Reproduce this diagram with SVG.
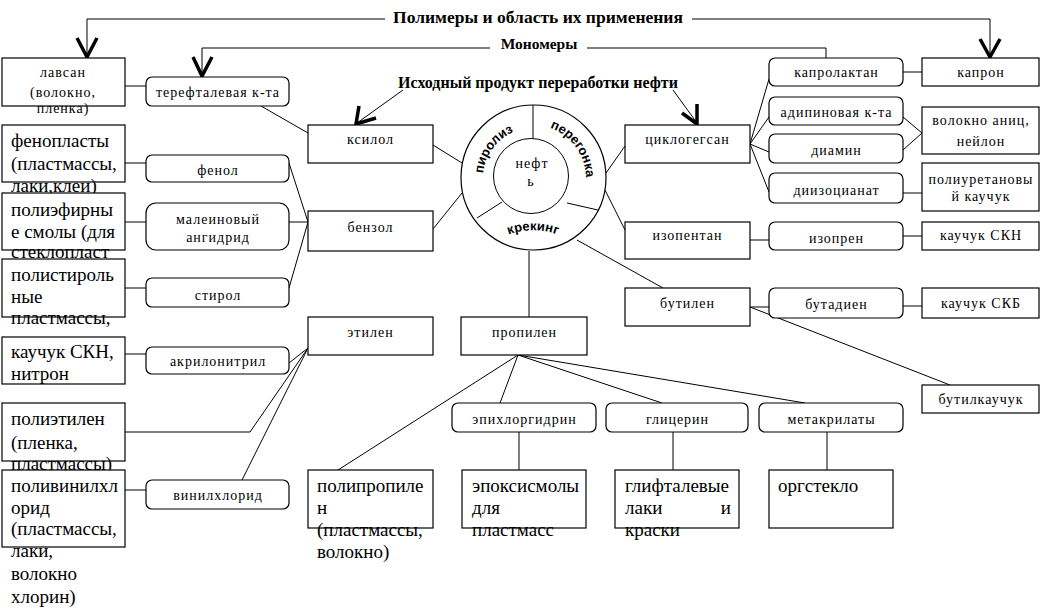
<svg xmlns="http://www.w3.org/2000/svg" width="1048" height="610" viewBox="0 0 1048 610" font-family="Liberation Serif, Times New Roman, serif">
<style>
.box{fill:#fff;stroke:#000;stroke-width:1.2}
.t{font-size:14px;fill:#000;letter-spacing:1px}
.c{text-anchor:middle}
.big{font-size:19px;fill:#000}
.h{font-weight:bold;fill:#000;text-anchor:middle}
.ln{stroke:#000;stroke-width:1;fill:none}
.arr{stroke:#000;stroke-width:3.5;fill:none;stroke-linejoin:miter}
.arc{font-weight:bold;font-size:13px;fill:#000}
</style>
<defs>
<path id="pPir" d="M 483.2 173.6 A 50 50 0 0 1 520.1 129.7"/>
<path id="pPer" d="M 550 128 A 53 53 0 0 1 584 192"/>
<path id="pKr" d="M 501 238 A 70 70 0 0 1 565 238"/>
</defs>

<rect width="1048" height="610" fill="#fff"/>

<g id="titles">
<text class="h" x="538" y="23" font-size="17.5">Полимеры и область их применения</text>
<text class="h" x="539" y="49" font-size="15.5">Мономеры</text>
<text class="h" x="538" y="88" font-size="16">Исходный продукт переработки нефти</text>
</g>

<g id="connectors">
<polyline class="ln" points="385,19 87,19 87,56"/>
<polyline class="ln" points="692,19 990,19 990,56"/>
<polyline class="arr" points="77,38 87,57 97,38"/>
<polyline class="arr" points="980,39 990,57 1000,39"/>
<polyline class="ln" points="490,48 202,48 202,76"/>
<polyline class="ln" points="587,48 826,48 826,58"/>
<polyline class="arr" points="193,57 202,76 212,57"/>
<line class="ln" x1="403" y1="90" x2="357" y2="123"/>
<polyline class="arr" points="359,106 356,124 376,118"/>
<line class="ln" x1="673" y1="90" x2="697" y2="123"/>
<polyline class="arr" points="697,104 697,124 682,113"/>

<line class="ln" x1="125" y1="86" x2="146" y2="86"/>
<line class="ln" x1="261" y1="106" x2="308" y2="133"/>
<line class="ln" x1="433" y1="145" x2="462" y2="163"/>
<line class="ln" x1="125" y1="163" x2="146" y2="163"/>
<line class="ln" x1="289" y1="163" x2="308" y2="222"/>
<line class="ln" x1="125" y1="222" x2="146" y2="222"/>
<line class="ln" x1="289" y1="222" x2="308" y2="222"/>
<line class="ln" x1="125" y1="288" x2="146" y2="288"/>
<line class="ln" x1="289" y1="288" x2="308" y2="222"/>
<line class="ln" x1="433" y1="229" x2="462" y2="193"/>
<line class="ln" x1="125" y1="354" x2="146" y2="354"/>
<line class="ln" x1="289" y1="363" x2="308" y2="348"/>
<polyline class="ln" points="125,432 250,432 308,348"/>
<line class="ln" x1="242" y1="480" x2="308" y2="348"/>
<line class="ln" x1="125" y1="490" x2="146" y2="490"/>

<line class="ln" x1="529" y1="251" x2="529" y2="317"/>
<line class="ln" x1="518" y1="355" x2="338" y2="470"/>
<line class="ln" x1="518" y1="355" x2="500" y2="403"/>
<line class="ln" x1="518" y1="355" x2="662" y2="403"/>
<line class="ln" x1="518" y1="355" x2="805" y2="403"/>
<line class="ln" x1="519" y1="432" x2="519" y2="470"/>
<line class="ln" x1="673" y1="432" x2="673" y2="470"/>
<line class="ln" x1="827" y1="432" x2="827" y2="470"/>

<line class="ln" x1="606" y1="173" x2="625" y2="146"/>
<line class="ln" x1="605" y1="190" x2="625" y2="230"/>
<line class="ln" x1="577" y1="240" x2="663" y2="288"/>
<line class="ln" x1="750" y1="144" x2="769" y2="79"/>
<line class="ln" x1="750" y1="144" x2="769" y2="117"/>
<line class="ln" x1="750" y1="144" x2="769" y2="152"/>
<line class="ln" x1="750" y1="144" x2="769" y2="192"/>
<line class="ln" x1="903" y1="72" x2="922" y2="72"/>
<line class="ln" x1="903" y1="117" x2="922" y2="133"/>
<line class="ln" x1="903" y1="150" x2="922" y2="133"/>
<line class="ln" x1="903" y1="193" x2="922" y2="193"/>
<line class="ln" x1="750" y1="240" x2="769" y2="240"/>
<line class="ln" x1="903" y1="236" x2="922" y2="236"/>
<line class="ln" x1="750" y1="307" x2="769" y2="307"/>
<line class="ln" x1="903" y1="306" x2="922" y2="306"/>
<line class="ln" x1="750" y1="307" x2="950" y2="385"/>
</g>

<g id="neft">
<circle cx="533.5" cy="177.5" r="72.5" class="box" fill="none"/>
<circle cx="531" cy="176" r="37.5" class="ln"/>
<line class="ln" x1="533" y1="105" x2="533" y2="138.5"/>
<line class="ln" x1="477" y1="218" x2="502" y2="202"/>
<line class="ln" x1="567" y1="203" x2="598" y2="210"/>
<g font-family="Liberation Sans, Arial, sans-serif">
<text class="arc"><textPath href="#pPir">пиролиз</textPath></text>
<text class="arc"><textPath href="#pPer">перегонка</textPath></text>
<text class="arc" text-anchor="middle"><textPath href="#pKr" startOffset="50%">крекинг</textPath></text>
</g>
<text class="t c" x="532" y="168">нефт</text>
<text class="t c" x="531" y="186" font-size="12">ь</text>
</g>

<g id="lavsan"><rect class="box" x="2" y="58" width="123" height="48"/>
<text class="t c" x="63" y="77">лавсан</text><text class="t c" x="63" y="97">(волокно,</text><text class="t c" x="63" y="113">пленка)</text></g>
<g id="fenoplasty"><rect class="box" x="2" y="125" width="123" height="57"/>
<text class="big" x="11" y="147">фенопласты</text><text class="big" x="11" y="170">(пластмассы,</text><text class="big" x="11" y="192">лаки,клеи)</text></g>
<g id="poliefir"><rect class="box" x="2" y="193" width="123" height="57"/>
<text class="big" x="11" y="216">полиэфирны</text><text class="big" x="11" y="238">е смолы (для</text><text class="big" x="11" y="258">стеклопласт</text></g>
<g id="polistirol"><rect class="box" x="2" y="259" width="123" height="58"/>
<text class="big" x="11" y="281">полистироль</text><text class="big" x="11" y="303">ные</text><text class="big" x="11" y="324">пластмассы,</text></g>
<g id="kauchuk-skn-nitron"><rect class="box" x="2" y="337" width="123" height="47"/>
<text class="big" x="11" y="358">каучук СКН,</text><text class="big" x="11" y="380">нитрон</text></g>
<g id="polietilen"><rect class="box" x="2" y="403" width="123" height="58"/>
<text class="big" x="11" y="425">полиэтилен</text><text class="big" x="11" y="449">(пленка,</text><text class="big" x="11" y="470">пластмассы)</text></g>
<g id="polivinilhlorid"><rect class="box" x="2" y="470" width="123" height="77"/>
<text class="big" x="11" y="492">поливинилхл</text><text class="big" x="11" y="514">орид</text><text class="big" x="11" y="535">(пластмассы,</text><text class="big" x="11" y="557">лаки,</text><text class="big" x="11" y="580">волокно</text><text class="big" x="11" y="603">хлорин)</text></g>

<g id="tereftal"><rect class="box" x="146" y="77" width="143" height="29" rx="6"/><text class="t c" x="218" y="97">терефталевая к-та</text></g>
<g id="fenol"><rect class="box" x="146" y="155" width="143" height="27" rx="6"/><text class="t c" x="218" y="175">фенол</text></g>
<g id="malein"><rect class="box" x="146" y="203" width="143" height="47" rx="10"/><text class="t c" x="218" y="224">малеиновый</text><text class="t c" x="218" y="242">ангидрид</text></g>
<g id="stirol"><rect class="box" x="146" y="278" width="143" height="29" rx="6"/><text class="t c" x="218" y="300">стирол</text></g>
<g id="akrilonitril"><rect class="box" x="146" y="347" width="143" height="27" rx="6"/><text class="t c" x="218" y="366">акрилонитрил</text></g>
<g id="vinilhlorid"><rect class="box" x="146" y="480" width="143" height="29" rx="6"/><text class="t c" x="218" y="500" font-size="13">винилхлорид</text></g>

<g id="ksilol"><rect class="box" x="308" y="125" width="125" height="38"/><text class="t c" x="370.5" y="144">ксилол</text></g>
<g id="benzol"><rect class="box" x="308" y="211" width="125" height="40"/><text class="t c" x="370.5" y="232">бензол</text></g>
<g id="etilen"><rect class="box" x="308" y="317" width="125" height="38"/><text class="t c" x="370.5" y="337">этилен</text></g>
<g id="propilen"><rect class="box" x="461" y="317" width="126" height="38"/><text class="t c" x="524.5" y="337">пропилен</text></g>

<g id="epihlorgidrin"><rect class="box" x="452" y="403" width="144" height="29" rx="6"/><text class="t c" x="524.5" y="424">эпихлоргидрин</text></g>
<g id="glicerin"><rect class="box" x="606" y="403" width="142" height="29" rx="6"/><text class="t c" x="677.5" y="424">глицерин</text></g>
<g id="metakrilaty"><rect class="box" x="759" y="403" width="144" height="29" rx="6"/><text class="t c" x="831.5" y="424">метакрилаты</text></g>

<g id="polipropilen"><rect class="box" x="308" y="470" width="125" height="58"/>
<text class="big" x="317" y="492">полипропиле</text><text class="big" x="317" y="514">н</text><text class="big" x="317" y="536">(пластмассы,</text><text class="big" x="317" y="558">волокно)</text></g>
<g id="epoksismoly"><rect class="box" x="462" y="470" width="124" height="58"/>
<text class="big" x="472" y="492">эпоксисмолы</text><text class="big" x="472" y="514">для</text><text class="big" x="472" y="536">пластмасс</text></g>
<g id="gliftalevye"><rect class="box" x="615" y="470" width="124" height="58"/>
<text class="big" x="625" y="492">глифталевые</text><text class="big" x="625" y="514">лаки</text><text class="big" x="731" y="514" text-anchor="end">и</text><text class="big" x="625" y="536">краски</text></g>
<g id="orgsteklo"><rect class="box" x="769" y="470" width="124" height="58"/>
<text class="big" x="778" y="492">оргстекло</text></g>

<g id="ciklogeksan"><rect class="box" x="625" y="125" width="125" height="38"/><text class="t c" x="687.5" y="144">циклогегсан</text></g>
<g id="izopentan"><rect class="box" x="625" y="222" width="125" height="37"/><text class="t c" x="687.5" y="240">изопентан</text></g>
<g id="butilen"><rect class="box" x="625" y="288" width="125" height="38"/><text class="t c" x="687.5" y="308">бутилен</text></g>

<g id="kaprolaktan"><rect class="box" x="769" y="58" width="134" height="28" rx="6"/><text class="t c" x="836.5" y="77">капролактан</text></g>
<g id="adipinovaya"><rect class="box" x="769" y="97" width="134" height="28" rx="6"/><text class="t c" x="836.5" y="117">адипиновая к-та</text></g>
<g id="diamin"><rect class="box" x="769" y="134" width="134" height="29" rx="6"/><text class="t c" x="836.5" y="155">диамин</text></g>
<g id="diizocianat"><rect class="box" x="769" y="173" width="134" height="30" rx="6"/><text class="t c" x="836.5" y="195">диизоцианат</text></g>
<g id="izopren"><rect class="box" x="769" y="222" width="134" height="28" rx="6"/><text class="t c" x="836.5" y="243">изопрен</text></g>
<g id="butadien"><rect class="box" x="769" y="288" width="134" height="30" rx="6"/><text class="t c" x="836.5" y="309">бутадиен</text></g>

<g id="kapron"><rect class="box" x="922" y="58" width="117" height="28"/><text class="t c" x="981" y="77">капрон</text></g>
<g id="voloknoanid"><rect class="box" x="922" y="107" width="117" height="47"/><text class="t c" x="981" y="125" letter-spacing="0.3">волокно аниц,</text><text class="t c" x="981" y="146">нейлон</text></g>
<g id="poliuretan"><rect class="box" x="922" y="163" width="117" height="48"/><text class="t c" x="981" y="184" letter-spacing="0.3">полиуретановы</text><text class="t c" x="981" y="201">й каучук</text></g>
<g id="kauchuk-skn"><rect class="box" x="922" y="222" width="117" height="28"/><text class="t c" x="981" y="240" font-size="15" letter-spacing="0.5">каучук СКН</text></g>
<g id="kauchuk-skb"><rect class="box" x="922" y="288" width="117" height="30"/><text class="t c" x="981" y="308" font-size="15" letter-spacing="0.5">каучук СКБ</text></g>
<g id="butilkauchuk"><rect class="box" x="922" y="385" width="117" height="28"/><text class="t c" x="981" y="404" letter-spacing="0.5">бутилкаучук</text></g>
</svg>
